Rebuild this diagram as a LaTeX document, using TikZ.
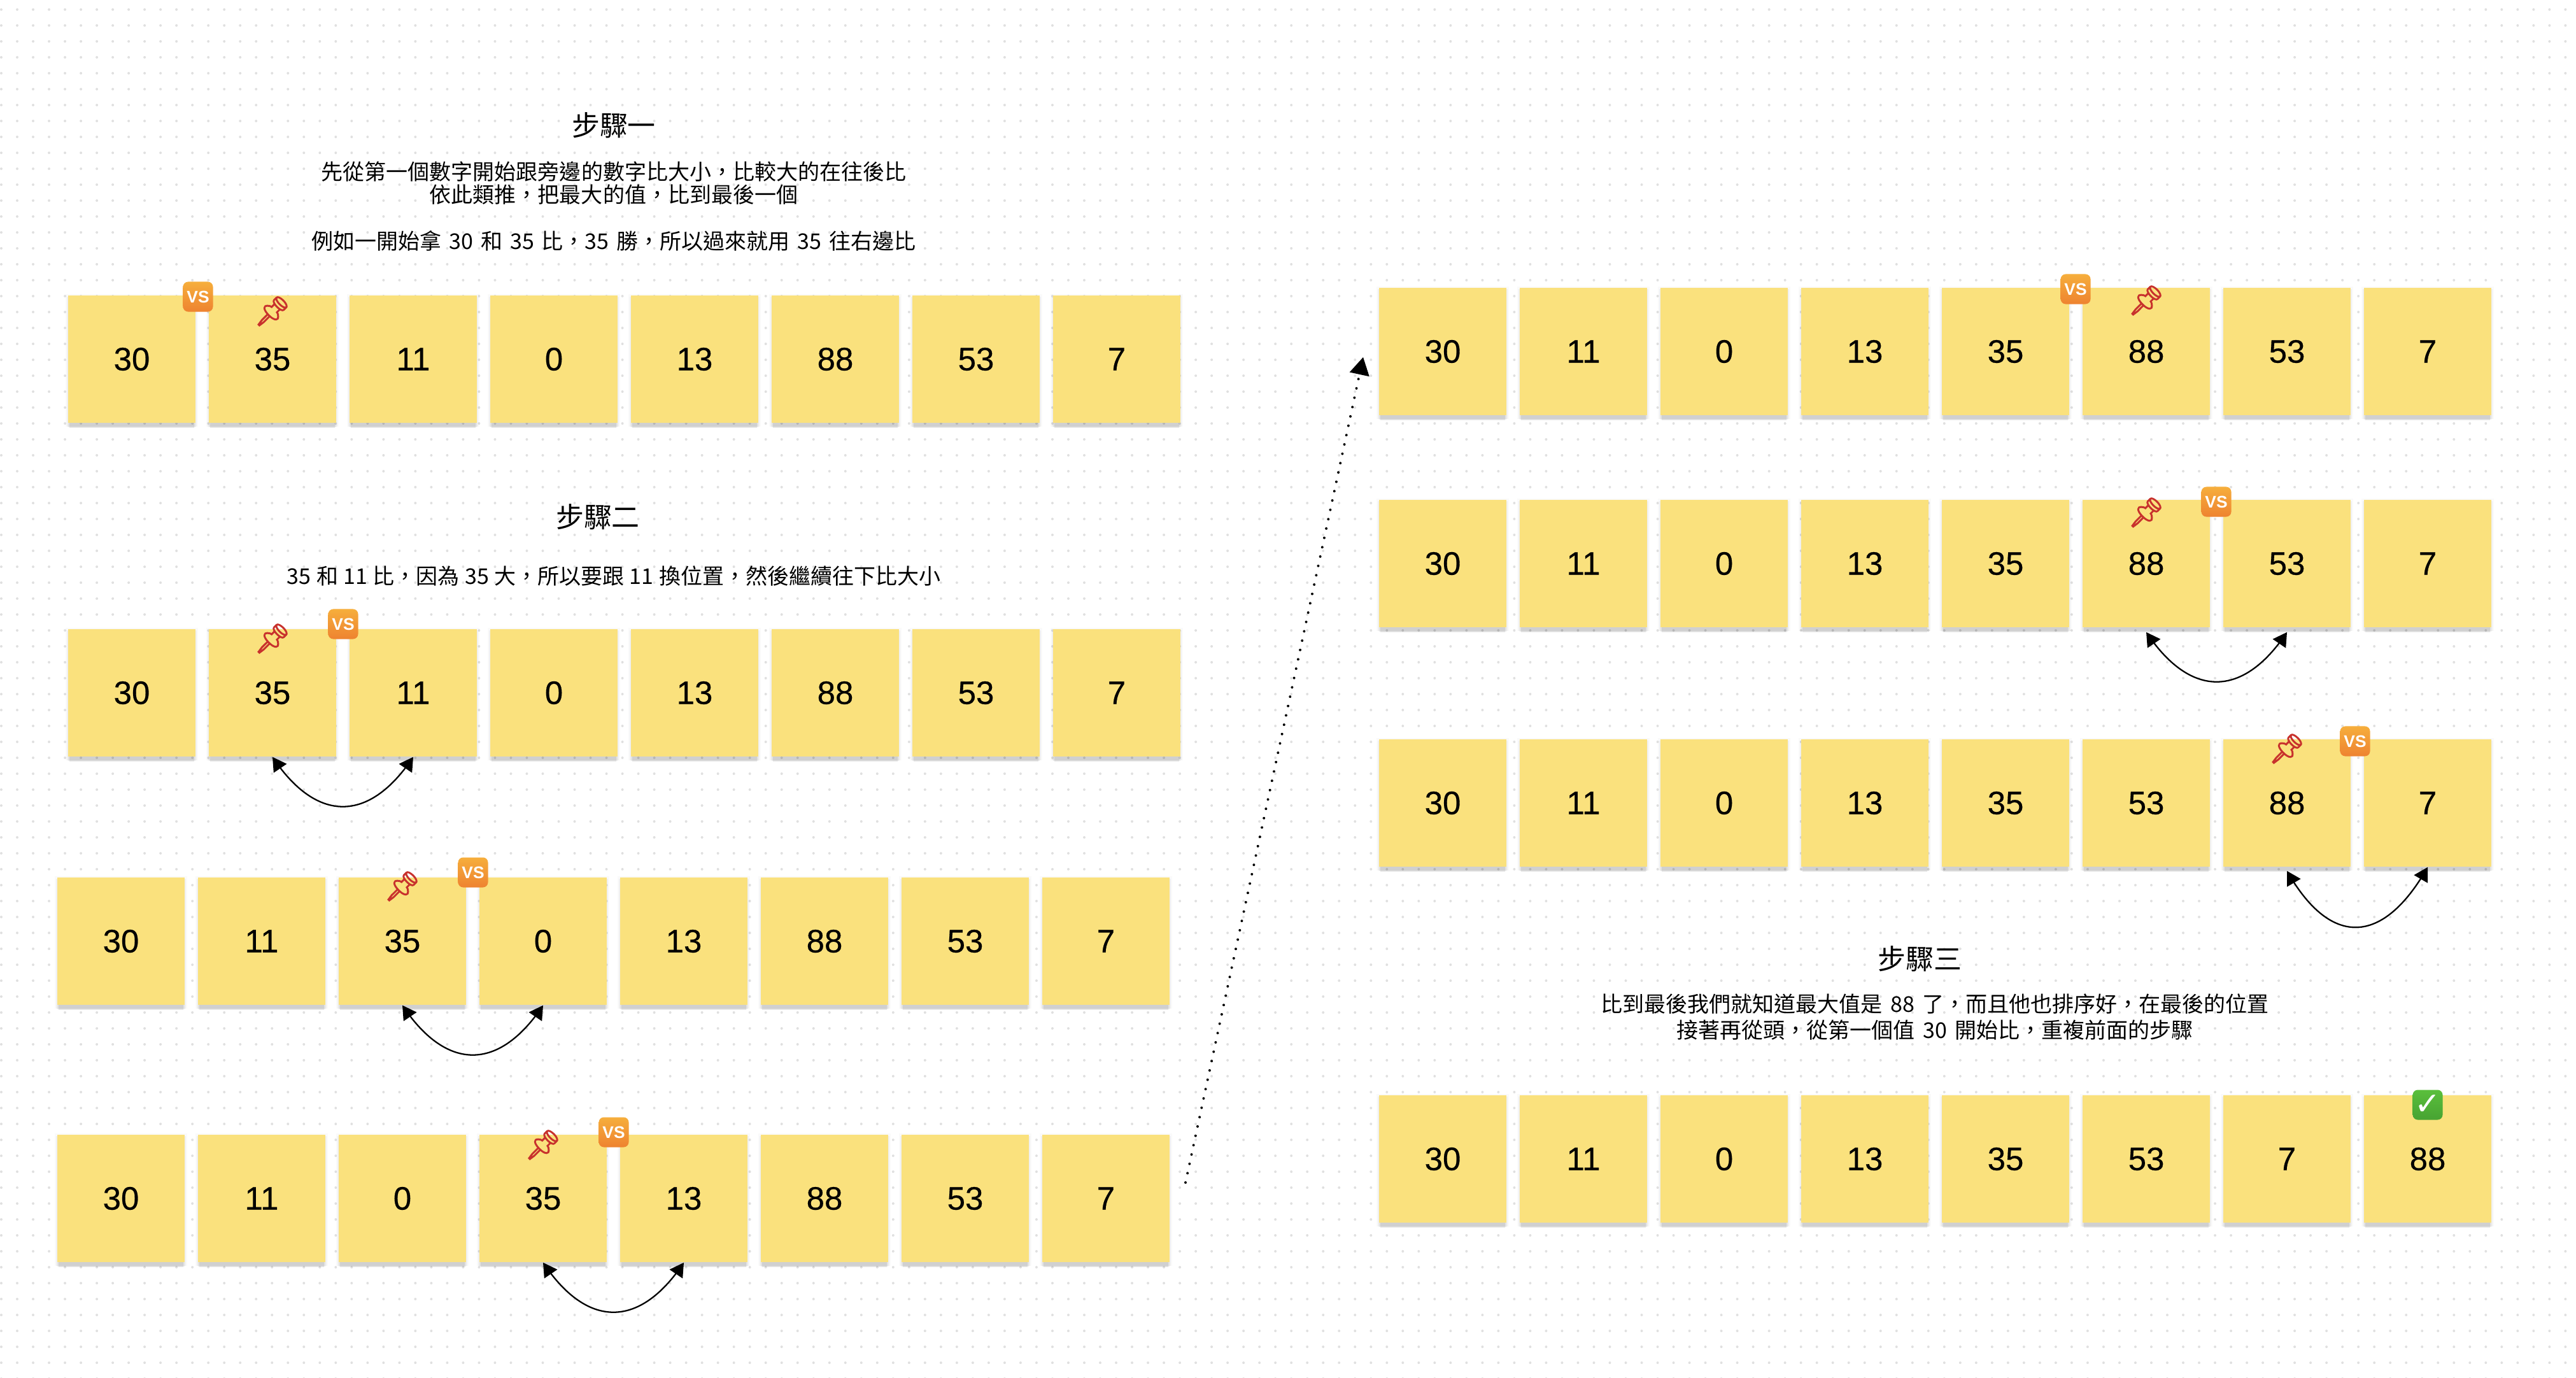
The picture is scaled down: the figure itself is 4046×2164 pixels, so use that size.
\documentclass[tikz,border=0pt]{standalone}
\usepackage{fontspec}
\usepackage{color}
\usepackage{tikz}
\usetikzlibrary{arrows}
\usetikzlibrary{shadows}
\setmainfont{Liberation Sans}
\newfontfamily\notefont[FakeBold=0.4]{Liberation Sans}
\newfontfamily\cjk{Noto Sans CJK TC}
\newfontfamily\emojifont[FakeBold=2.5]{Noto Emoji}
\newfontfamily\symfont{DejaVu Sans}
\definecolor{notefill}{HTML}{FAE17D}
\definecolor{griddot}{HTML}{E0E0E0}
\definecolor{pinred}{HTML}{C8322D}
\definecolor{vstop}{HTML}{F6AE3C}
\definecolor{vsbottom}{HTML}{EE8330}
\definecolor{donetop}{HTML}{5ABF3C}
\definecolor{donebottom}{HTML}{47A332}
\tikzset{
  sticky/.style={fill=notefill,inner sep=0pt,minimum size=2cm,font=\notefont\fontsize{14.5}{16}\selectfont,
    general shadow={fill=black,opacity=.02,shadow scale=1.04,shadow yshift=-.02cm},
    general shadow={fill=black,opacity=.04,shadow scale=1.02,shadow yshift=-.04cm},
    general shadow={fill=black,opacity=.06,shadow yshift=-.07cm},
    general shadow={fill=black,opacity=.08,shadow scale=.98,shadow yshift=-.10cm}},
  vsbadge/.style={rounded corners=.08cm,inner sep=0pt,minimum size=.47cm,text=white,
    top color=vstop,bottom color=vsbottom,
    font=\bfseries\fontsize{7.5}{8}\selectfont},
  donebadge/.style={rounded corners=.08cm,inner sep=0pt,minimum size=.47cm,text=white,
    top color=donetop,bottom color=donebottom,
    font=\symfont\fontsize{14}{14}\selectfont},
  pin/.style={inner sep=0pt,text=pinred,font=\emojifont\fontsize{13}{13}\selectfont},
  swapline/.style={triangle 60-triangle 60,line width=.65pt},
  steptitle/.style={font=\cjk\fontsize{12.5}{14}\selectfont},
  steptext/.style={align=center,font=\cjk\fontsize{9.67}{10.24}\selectfont}
}

\begin{document}
\begin{tikzpicture}[x=0.01cm,y=-0.01cm]
  \useasboundingbox (0,0) rectangle (4046,2164);
  % dotted board
  \foreach \y in {15,40,...,2165}
    \draw[griddot,line width=.04cm,line cap=round,dash pattern=on 0pt off .25cm] (2,\y) -- (4046,\y);

  % step one
  \node[steptitle] (title1) at (964,197) {步驟一};
  \node[steptext] (text1) at (964,324) {先從第一個數字開始跟旁邊的數字比大小，比較大的在往後比\\依此類推，把最大的值，比到最後一個\\[10.24pt]\spaceskip=3.4pt 例如一開始拿 30 和 35 比，35 勝，所以過來就用 35 往右邊比};
  % row a
  \node[sticky] (a1) at (207,564) {30};
  \node[sticky] (a2) at (428,564) {35};
  \node[sticky] (a3) at (649,564) {11};
  \node[sticky] (a4) at (870,564) {0};
  \node[sticky] (a5) at (1091,564) {13};
  \node[sticky] (a6) at (1312,564) {88};
  \node[sticky] (a7) at (1533,564) {53};
  \node[sticky] (a8) at (1754,564) {7};
  \node[vsbadge] (avs) at (311,466) {VS};
  \node[pin] (apin) at (428,489) {📌};

  % step two
  \node[steptitle] (title2) at (939,812) {步驟二};
  \node[steptext] (text2) at (964,904) {\spaceskip=2.4pt 35 和 11 比，因為 35 大，所以要跟 11 換位置，然後繼續往下比大小};
  % row b
  \node[sticky] (b1) at (207,1088) {30};
  \node[sticky] (b2) at (428,1088) {35};
  \node[sticky] (b3) at (649,1088) {11};
  \node[sticky] (b4) at (870,1088) {0};
  \node[sticky] (b5) at (1091,1088) {13};
  \node[sticky] (b6) at (1312,1088) {88};
  \node[sticky] (b7) at (1533,1088) {53};
  \node[sticky] (b8) at (1754,1088) {7};
  \node[vsbadge] (bvs) at (539,980) {VS};
  \node[pin] (bpin) at (428,1003) {📌};
  \draw[swapline] (b2.south) .. controls +(70,103) and +(-70,103) .. (b3.south);

  % row c
  \node[sticky] (c1) at (190,1478) {30};
  \node[sticky] (c2) at (411,1478) {11};
  \node[sticky] (c3) at (632,1478) {35};
  \node[sticky] (c4) at (853,1478) {0};
  \node[sticky] (c5) at (1074,1478) {13};
  \node[sticky] (c6) at (1295,1478) {88};
  \node[sticky] (c7) at (1516,1478) {53};
  \node[sticky] (c8) at (1737,1478) {7};
  \node[vsbadge] (cvs) at (743,1370) {VS};
  \node[pin] (cpin) at (632,1392) {📌};
  \draw[swapline] (c3.south) .. controls +(70,103) and +(-70,103) .. (c4.south);

  % row d
  \node[sticky] (d1) at (190,1882) {30};
  \node[sticky] (d2) at (411,1882) {11};
  \node[sticky] (d3) at (632,1882) {0};
  \node[sticky] (d4) at (853,1882) {35};
  \node[sticky] (d5) at (1074,1882) {13};
  \node[sticky] (d6) at (1295,1882) {88};
  \node[sticky] (d7) at (1516,1882) {53};
  \node[sticky] (d8) at (1737,1882) {7};
  \node[vsbadge] (dvs) at (964,1778) {VS};
  \node[pin] (dpin) at (853,1798) {📌};
  \draw[swapline] (d4.south) .. controls +(70,103) and +(-70,103) .. (d5.south);

  % line between the two columns
  \coordinate (jumpfrom) at (1862,1857);
  \coordinate (jumpto) at (2141,561);
  \draw[-triangle 60,line width=.04cm,line cap=round,dash pattern=on 0pt off .15cm] (jumpfrom) -- (jumpto);

  % row e
  \node[sticky] (e1) at (2266,552) {30};
  \node[sticky] (e2) at (2487,552) {11};
  \node[sticky] (e3) at (2708,552) {0};
  \node[sticky] (e4) at (2929,552) {13};
  \node[sticky] (e5) at (3150,552) {35};
  \node[sticky] (e6) at (3371,552) {88};
  \node[sticky] (e7) at (3592,552) {53};
  \node[sticky] (e8) at (3813,552) {7};
  \node[vsbadge] (evs) at (3260,454) {VS};
  \node[pin] (epin) at (3371,472) {📌};

  % row f
  \node[sticky] (f1) at (2266,885) {30};
  \node[sticky] (f2) at (2487,885) {11};
  \node[sticky] (f3) at (2708,885) {0};
  \node[sticky] (f4) at (2929,885) {13};
  \node[sticky] (f5) at (3150,885) {35};
  \node[sticky] (f6) at (3371,885) {88};
  \node[sticky] (f7) at (3592,885) {53};
  \node[sticky] (f8) at (3813,885) {7};
  \node[vsbadge] (fvs) at (3481,788) {VS};
  \node[pin] (fpin) at (3371,805) {📌};
  \draw[swapline] ([yshift=-2pt]f6.south) .. controls +(70,103) and +(-70,103) .. ([yshift=-2pt]f7.south);

  % row g
  \node[sticky] (g1) at (2266,1261) {30};
  \node[sticky] (g2) at (2487,1261) {11};
  \node[sticky] (g3) at (2708,1261) {0};
  \node[sticky] (g4) at (2929,1261) {13};
  \node[sticky] (g5) at (3150,1261) {35};
  \node[sticky] (g6) at (3371,1261) {53};
  \node[sticky] (g7) at (3592,1261) {88};
  \node[sticky] (g8) at (3813,1261) {7};
  \node[vsbadge] (gvs) at (3699,1164) {VS};
  \node[pin] (gpin) at (3592,1176) {📌};
  \draw[swapline] ([yshift=-1.7pt]g7.south) .. controls +(70,121) and +(-70,121) .. (g8.south);

  % step three
  \node[steptitle] (title3) at (3015,1506) {步驟三};
  \node[steptext,font=\cjk\fontsize{9.67}{11.7}\selectfont] (text3) at (3039,1597) {\spaceskip=3.6pt 比到最後我們就知道最大值是 88 了，而且他也排序好，在最後的位置\\\spaceskip=3.6pt 接著再從頭，從第一個值 30 開始比，重複前面的步驟};
  % row h
  \node[sticky] (h1) at (2266,1820) {30};
  \node[sticky] (h2) at (2487,1820) {11};
  \node[sticky] (h3) at (2708,1820) {0};
  \node[sticky] (h4) at (2929,1820) {13};
  \node[sticky] (h5) at (3150,1820) {35};
  \node[sticky] (h6) at (3371,1820) {53};
  \node[sticky] (h7) at (3592,1820) {7};
  \node[sticky] (h8) at (3813,1820) {88};
  \node[donebadge] (hdone) at (3813,1735) {✓};
\end{tikzpicture}
\end{document}
